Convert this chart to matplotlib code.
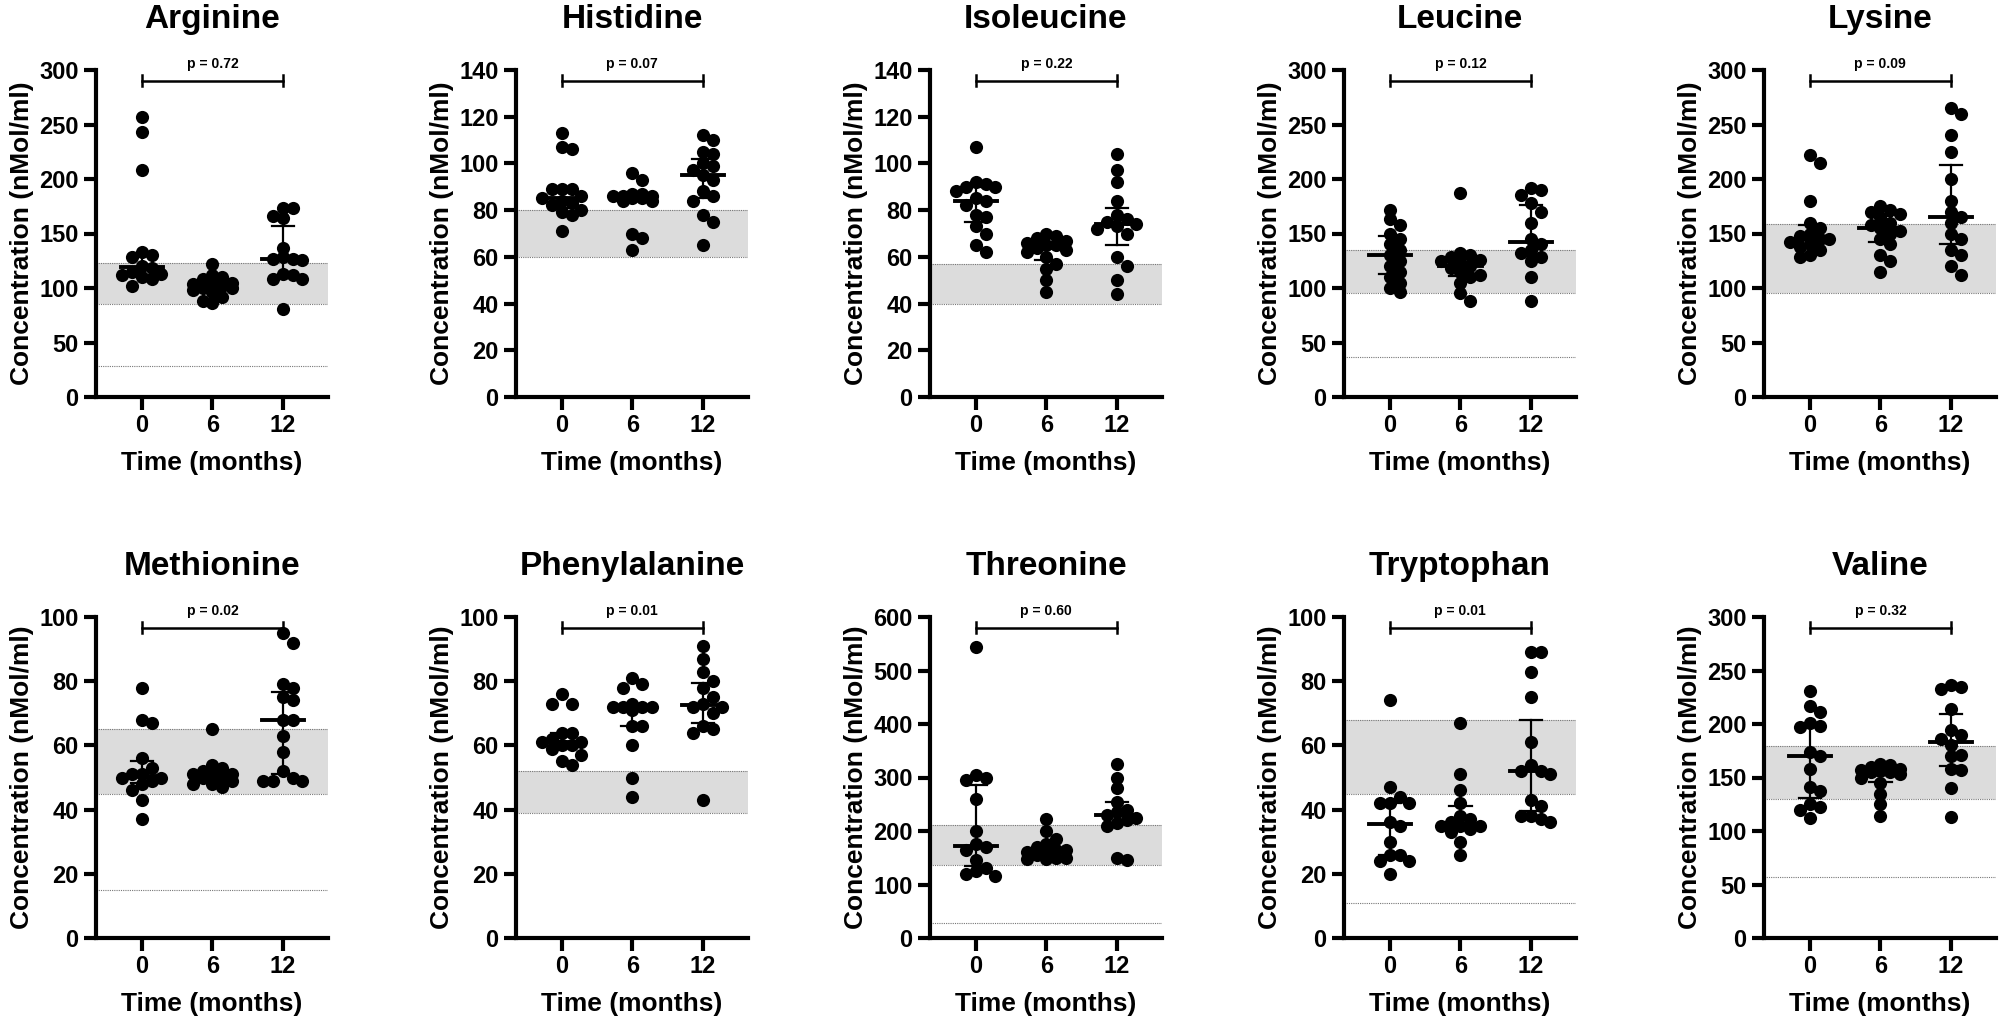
import numpy as np
import matplotlib
matplotlib.use("Agg")
import matplotlib.pyplot as plt
from matplotlib import font_manager

names = ["Arginine", "Histidine", "Isoleucine", "Leucine", "Lysine",
         "Methionine", "Phenylalanine", "Threonine", "Tryptophan", "Valine"]
p_values = ["0.72", "0.07", "0.22", "0.12", "0.09", "0.02", "0.01", "0.60", "0.01", "0.32"]
y_max = [300, 140, 140, 300, 300, 100, 100, 600, 100, 300]
y_step = [50, 20, 20, 50, 50, 20, 20, 100, 20, 50]
# reference range band (low, high) and extra dotted line
ref_band = [(85, 123), (60, 80), (40, 57), (95, 135), (95, 159),
            (45, 65), (39, 52), (137, 212), (45, 68), (130, 179)]
ref_extra = [28, None, None, 37, None, 15, None, 28, 11, 57]
time_labels = ["0", "6", "12"]

arginine = [[257, 243, 208, 133, 128, 130, 120, 118, 115, 113, 112, 110, 108, 102],
            [122, 112, 110, 108, 105, 104, 103, 102, 100, 100, 98, 96, 92, 88, 86],
            [173, 173, 166, 164, 137, 128, 127, 127, 126, 113, 112, 108, 108, 81]]
histidine = [[113, 107, 106, 89, 89, 89, 86, 85, 84, 83, 82, 80, 79, 78, 71],
             [96, 93, 87, 87, 86, 86, 86, 85, 85, 84, 84, 70, 68, 63],
             [112, 110, 105, 104, 100, 99, 97, 95, 93, 88, 86, 84, 78, 75, 65]]
isoleucine = [[107, 92, 91, 90, 90, 88, 85, 84, 82, 78, 77, 73, 70, 65, 62],
              [70, 69, 68, 67, 66, 65, 65, 64, 63, 62, 60, 57, 55, 50, 45],
              [104, 97, 92, 84, 78, 76, 75, 74, 73, 72, 70, 60, 56, 50, 44]]
leucine = [[172, 163, 158, 150, 145, 140, 135, 130, 125, 120, 115, 110, 105, 100, 96],
           [187, 132, 130, 128, 126, 125, 124, 120, 118, 115, 112, 110, 105, 95, 88],
           [192, 190, 185, 178, 170, 160, 145, 140, 135, 132, 128, 125, 110, 88]]
lysine = [[222, 215, 180, 160, 155, 150, 148, 145, 145, 142, 140, 138, 135, 130, 128],
          [175, 172, 170, 168, 165, 160, 158, 155, 152, 150, 145, 140, 130, 125, 115],
          [265, 260, 240, 225, 200, 180, 170, 165, 160, 150, 145, 135, 130, 120, 112]]
methionine = [[78, 68, 67, 56, 53, 51, 51, 50, 50, 49, 48, 46, 43, 37],
              [65, 54, 53, 52, 51, 51, 51, 50, 50, 50, 49, 48, 48, 47],
              [95, 92, 79, 78, 75, 74, 68, 68, 63, 58, 52, 50, 49, 49, 49]]
phenylalanine = [[76, 73, 73, 64, 64, 62, 61, 61, 60, 60, 59, 57, 55, 54],
                 [81, 79, 78, 73, 72, 72, 72, 72, 71, 66, 66, 60, 50, 44],
                 [91, 87, 83, 80, 78, 75, 73, 72, 72, 70, 66, 65, 64, 43]]
threonine = [[543, 305, 300, 295, 260, 200, 175, 170, 165, 145, 130, 125, 120, 115],
             [222, 200, 185, 175, 170, 165, 165, 160, 158, 155, 150, 150, 148, 148],
             [325, 300, 280, 255, 240, 235, 230, 225, 220, 215, 210, 150, 145]]
tryptophan = [[74, 47, 44, 42, 42, 42, 36, 35, 30, 26, 26, 24, 24, 20],
              [67, 51, 46, 42, 38, 37, 36, 35, 35, 35, 34, 33, 30, 26],
              [89, 89, 83, 75, 61, 54, 52, 52, 51, 43, 41, 38, 38, 37, 36]]
valine = [[231, 217, 211, 201, 198, 197, 174, 170, 158, 141, 137, 125, 122, 120, 112],
          [163, 162, 160, 158, 157, 156, 155, 155, 153, 150, 145, 135, 125, 114],
          [236, 235, 233, 214, 194, 190, 186, 180, 171, 170, 158, 157, 140, 113]]
all_data = [arginine, histidine, isoleucine, leucine, lysine,
            methionine, phenylalanine, threonine, tryptophan, valine]

installed = {f.name for f in font_manager.fontManager.ttflist}
family = "Liberation Sans Narrow" if "Liberation Sans Narrow" in installed else "Liberation Sans"
plt.rcParams["font.family"] = [family, "DejaVu Sans"]
plt.rcParams["font.weight"] = "bold"

W, H = 2000, 1025
fig = plt.figure(figsize=(20, 10.25), dpi=100)
lefts = [96, 516, 930, 1344, 1764]
rows = [(70, 397), (617, 938)]
AX_W = 232
MARK_PX = 13


def swarm(vals, px_per_x, px_per_y, max_off=0.36):
    """Greedy beeswarm offsets (x data units); overlap allowed once max_off is hit."""
    order = np.argsort(vals)[::-1]
    placed = []
    offs = np.zeros(len(vals))
    step = MARK_PX * 0.75 / px_per_x
    min_d = MARK_PX * 0.75
    for i in order:
        y = vals[i] * px_per_y
        best, best_d = 0.0, -1.0
        for k in range(0, 12):
            cands = [0.0] if k == 0 else [k * step, -k * step]
            for c in cands:
                if abs(c) > max_off:
                    continue
                cx = c * px_per_x
                d = min([np.hypot(cx - px, y - py) for px, py in placed] or [1e9])
                if d > best_d:
                    best, best_d = c, d
                if d >= min_d:
                    break
            if best_d >= min_d:
                break
        offs[i] = best
        placed.append((best * px_per_x, y))
    return offs


for idx, name in enumerate(names):
    r, c = divmod(idx, 5)
    top, bot = rows[r]
    ax = fig.add_axes([lefts[c] / W, (H - bot) / H, AX_W / W, (bot - top) / H])
    ymax = y_max[idx]
    xlim = (-0.65, 2.64)
    ax.set_xlim(*xlim)
    ax.set_ylim(0, ymax)
    px_per_x = AX_W / (xlim[1] - xlim[0])
    px_per_y = (bot - top) / ymax

    lo, hi = ref_band[idx]
    ax.axhspan(lo, hi, color="#dcdcdc", zorder=0, lw=0)
    for yv in (lo, hi):
        ax.axhline(yv, color="#777777", lw=0.8, ls=(0, (1, 1)), zorder=1)
    if ref_extra[idx] is not None:
        ax.axhline(ref_extra[idx], color="#777777", lw=0.8, ls=(0, (1, 1)), zorder=1)

    for g, vals in enumerate(all_data[idx]):
        vals = np.asarray(vals, dtype=float)
        offs = swarm(vals, px_per_x, px_per_y)
        ax.scatter(g + offs, vals, s=90, color="black", zorder=3, lw=0)
        q1, med, q3 = np.percentile(vals, [25, 50, 75])
        ax.plot([g - 0.3, g + 0.3], [med, med], color="black", lw=2.8, zorder=4)
        ax.plot([g, g], [q1, q3], color="black", lw=1.6, zorder=4)
        for q in (q1, q3):
            ax.plot([g - 0.16, g + 0.16], [q, q], color="black", lw=1.6, zorder=4)

    yb = ymax * 0.967
    ax.plot([0, 2], [yb, yb], color="black", lw=1.8, clip_on=False)
    for xe in (0, 2):
        ax.plot([xe, xe], [yb - ymax * 0.017, yb + ymax * 0.017], color="black", lw=1.8, clip_on=False)
    ax.text(1, yb + ymax * 0.03, f"p = {p_values[idx]}", ha="center", va="bottom",
            fontsize=10, fontweight="bold")

    ax.set_title(name, fontsize=24, fontweight="bold", pad=30)
    ax.set_xticks([0, 1, 2])
    ax.set_xticklabels(time_labels)
    ax.set_yticks(np.arange(0, ymax + 1, y_step[idx]))
    ax.tick_params(labelsize=17, width=3, length=9)
    for lab in ax.get_xticklabels() + ax.get_yticklabels():
        lab.set_fontweight("bold")
    ax.set_xlabel("Time (months)", fontsize=19, fontweight="bold", labelpad=10)
    ax.set_ylabel("Concentration (nMol/ml)", fontsize=19, fontweight="bold")
    for s in ("top", "right"):
        ax.spines[s].set_visible(False)
    for s in ("left", "bottom"):
        ax.spines[s].set_linewidth(3)

fig.savefig("out.png", dpi=100)
